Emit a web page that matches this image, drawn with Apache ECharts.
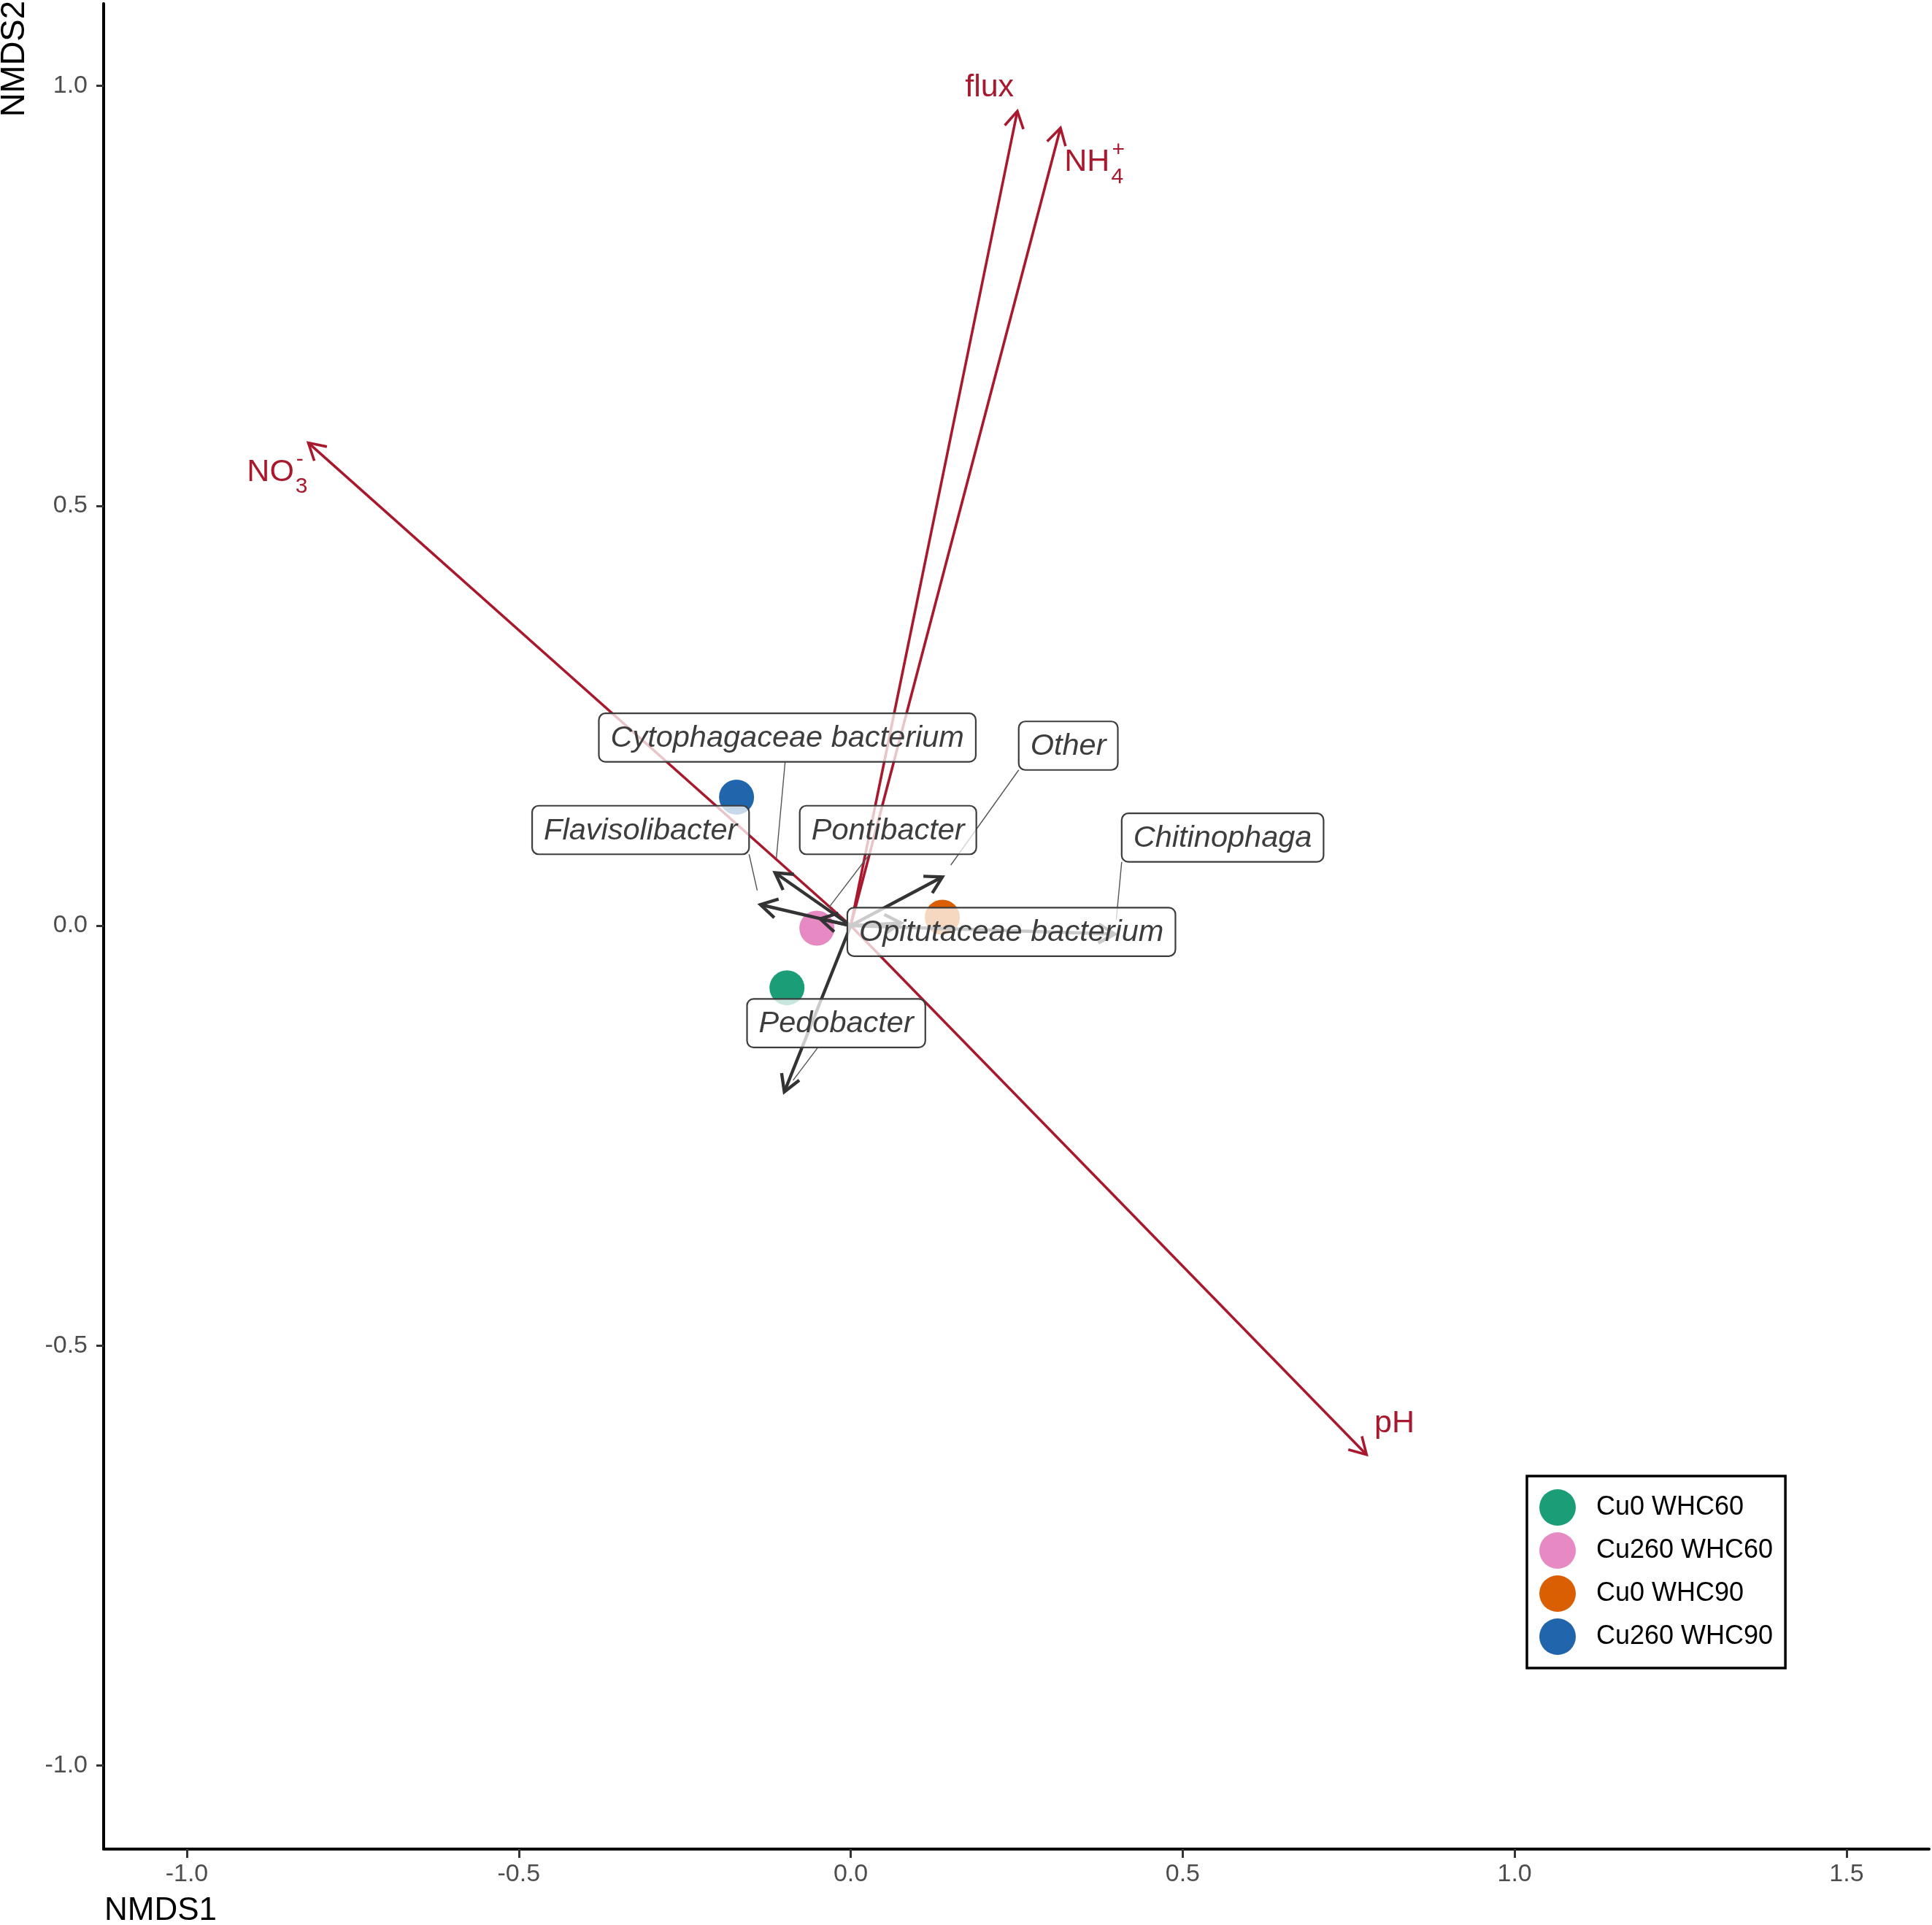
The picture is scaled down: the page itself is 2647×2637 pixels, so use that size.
<!DOCTYPE html>
<html>
<head>
<meta charset="utf-8">
<title>NMDS biplot</title>
<script src="https://cdn.jsdelivr.net/npm/echarts@6.0.0/dist/echarts.min.js"></script>
<style>
  html, body { margin: 0; padding: 0; background: #fff; }
  #chart { width: 2647px; height: 2637px; }
</style>
</head>
<body>
<div id="chart"></div>
<script>
// sample scores (group centroids)
const groups = ['Cu0 WHC60', 'Cu260 WHC60', 'Cu0 WHC90', 'Cu260 WHC90'];
const groupX = [-0.096, -0.051, 0.138, -0.172];
const groupY = [-0.074, -0.003, 0.010, 0.153];
const groupColors = ['#1B9E77', '#E78AC3', '#D95F02', '#2166AC'];

// environmental vectors
const envMain = ['flux', 'NH', 'NO', 'pH'];
const envSub = ['', '4', '3', ''];
const envSup = ['', '+', '-', ''];
const envX = [0.251, 0.316, -0.817, 0.777];
const envY = [0.970, 0.950, 0.575, -0.630];
// where the (repelled) labels sit
const envLabX = [0.209, 0.356, -0.874, 0.819];
const envLabY = [0.998, 0.909, 0.540, -0.593];

// taxa vectors
const taxa = ['Cytophagaceae bacterium', 'Flavisolibacter', 'Pontibacter', 'Other',
              'Chitinophaga', 'Opitutaceae bacterium', 'Pedobacter'];
const taxaX = [-0.114, -0.136, -0.046, 0.138, 0.398, 0.076, -0.100];
const taxaY = [0.063, 0.025, 0.008, 0.058, -0.010, 0.003, -0.198];
const taxaLabX = [-0.0955, -0.3165, 0.0562, 0.3277, 0.5602, 0.2420, -0.0219];
const taxaLabY = [0.2239, 0.1139, 0.1139, 0.2143, 0.1048, -0.0074, -0.1161];

// axis ticks
const xTicks = [-1.0, -0.5, 0.0, 0.5, 1.0, 1.5];
const yTicks = [-1.0, -0.5, 0.0, 0.5, 1.0];

const FONT = '"Liberation Sans", Arial, sans-serif';
const RED = '#A8192E';
const DARK = '#333333';
const LAB_SIZE = 41.5;

var measureCtx = document.createElement('canvas').getContext('2d');
function textWidth(t, size, italic) {
  measureCtx.font = (italic ? 'italic ' : '') + size + 'px "Liberation Sans"';
  return measureCtx.measureText(t).width;
}

// arrow from origin to the data point, open head like ggplot's arrow()
function arrowRender(color, width) {
  return function (params, api) {
    var p0 = api.coord([0, 0]);
    var p1 = api.coord([api.value(0), api.value(1)]);
    var ang = Math.atan2(p1[1] - p0[1], p1[0] - p0[0]);
    var L = 26, a = Math.PI / 6;
    var h1 = [p1[0] - L * Math.cos(ang - a), p1[1] - L * Math.sin(ang - a)];
    var h2 = [p1[0] - L * Math.cos(ang + a), p1[1] - L * Math.sin(ang + a)];
    return {
      type: 'group',
      children: [
        { type: 'line', shape: { x1: p0[0], y1: p0[1], x2: p1[0], y2: p1[1] },
          style: { stroke: color, lineWidth: width } },
        { type: 'polyline', shape: { points: [h1, p1, h2] },
          style: { stroke: color, lineWidth: width, fill: null } }
      ]
    };
  };
}

function labelBox(i) {
  var w = textWidth(taxa[i], LAB_SIZE, true) + 32;
  var h = LAB_SIZE + 25;
  return { hw: w / 2, hh: h / 2 };
}

// ggrepel-style segment from label edge towards the arrow tip
function leaderRender(params, api) {
  var i = params.dataIndex;
  var c = api.coord([api.value(0), api.value(1)]);
  var t = api.coord([api.value(2), api.value(3)]);
  var b = labelBox(i);
  var dx = t[0] - c[0], dy = t[1] - c[1];
  var outX = Math.abs(dx) > b.hw, outY = Math.abs(dy) > b.hh;
  if (!outX && !outY) return null;
  var sx, sy;
  if (outX && outY) {
    // off a corner: connect to that corner
    sx = c[0] + (dx > 0 ? b.hw : -b.hw);
    sy = c[1] + (dy > 0 ? b.hh : -b.hh);
  } else {
    var s = Math.min(dx === 0 ? Infinity : b.hw / Math.abs(dx), dy === 0 ? Infinity : b.hh / Math.abs(dy));
    sx = c[0] + s * dx; sy = c[1] + s * dy;
  }
  var ux = t[0] - sx, uy = t[1] - sy;
  var d = Math.sqrt(ux * ux + uy * uy);
  if (d <= 24) return null;
  var ex = t[0] - 20 * ux / d, ey = t[1] - 20 * uy / d;
  return { type: 'line', shape: { x1: sx, y1: sy, x2: ex, y2: ey },
           style: { stroke: '#555555', lineWidth: 1.4 } };
}

function taxaLabelRender(params, api) {
  var i = params.dataIndex;
  var c = api.coord([api.value(0), api.value(1)]);
  var b = labelBox(i);
  return {
    type: 'group',
    children: [
      { type: 'rect', shape: { x: c[0] - b.hw, y: c[1] - b.hh, width: 2 * b.hw, height: 2 * b.hh, r: 9 },
        style: { fill: 'rgba(255,255,255,0.75)', stroke: '#3d3d3d', lineWidth: 2.2 } },
      { type: 'text', x: c[0], y: c[1] + 1,
        style: { text: taxa[i], fontSize: LAB_SIZE, fontFamily: FONT, fontStyle: 'italic',
                 fill: '#3d3d3d', align: 'center', verticalAlign: 'middle' } }
    ]
  };
}

function envLabelRender(params, api) {
  var i = params.dataIndex;
  var c = api.coord([api.value(0), api.value(1)]);
  var mw = textWidth(envMain[i], 43, false);
  var kids = [
    { type: 'text', x: c[0], y: c[1],
      style: { text: envMain[i], fontSize: 43, fontFamily: FONT, fill: RED,
               align: 'center', verticalAlign: 'middle' } }
  ];
  var rx = c[0] + mw / 2 + 2;
  if (envSub[i]) {
    kids.push({ type: 'text', x: rx, y: c[1] + 20,
      style: { text: envSub[i], fontSize: 30, fontFamily: FONT, fill: RED, align: 'left', verticalAlign: 'middle' } });
  }
  if (envSup[i]) {
    kids.push({ type: 'text', x: rx + 1, y: c[1] - 17,
      style: { text: envSup[i], fontSize: 30, fontFamily: FONT, fill: RED, align: 'left', verticalAlign: 'middle' } });
  }
  return { type: 'group', children: kids };
}

var chart = echarts.init(document.getElementById('chart'), null, { renderer: 'canvas' });

var series = groups.map(function (g, i) {
  return {
    name: g, type: 'scatter', symbol: 'circle', symbolSize: 48,
    itemStyle: { color: groupColors[i], opacity: 1 },
    data: [[groupX[i], groupY[i]]], z: 2, silent: true
  };
});

series.push({
  type: 'custom', renderItem: arrowRender(RED, 3.6), z: 3, silent: true,
  data: envX.map(function (x, i) { return [x, envY[i]]; }),
  encode: { x: 0, y: 1 }
});
series.push({
  type: 'custom', renderItem: arrowRender(DARK, 4.4), z: 4, silent: true,
  data: taxaX.map(function (x, i) { return [x, taxaY[i]]; }),
  encode: { x: 0, y: 1 }
});
series.push({
  type: 'custom', renderItem: leaderRender, z: 5, silent: true,
  data: taxaLabX.map(function (x, i) { return [x, taxaLabY[i], taxaX[i], taxaY[i]]; }),
  encode: { x: [0, 2], y: [1, 3] }
});
series.push({
  type: 'custom', renderItem: taxaLabelRender, z: 6, silent: true,
  data: taxaLabX.map(function (x, i) { return [x, taxaLabY[i]]; }),
  encode: { x: 0, y: 1 }
});
series.push({
  type: 'custom', renderItem: envLabelRender, z: 7, silent: true,
  data: envLabX.map(function (x, i) { return [x, envLabY[i]]; }),
  encode: { x: 0, y: 1 }
});

var option = {
  animation: false,
  backgroundColor: '#ffffff',
  grid: { left: 142, right: 4, top: 5, bottom: 104 },
  xAxis: {
    type: 'value', min: -1.1253, max: 1.6243,
    splitLine: { show: false },
    axisLine: { show: true, onZero: false, lineStyle: { color: '#000', width: 4 } },
    axisTick: { show: true, length: 12, customValues: xTicks, lineStyle: { color: '#333', width: 3 } },
    axisLabel: { customValues: xTicks, margin: 18, fontSize: 34, color: '#4D4D4D', fontFamily: FONT,
                 formatter: function (v) { return v.toFixed(1); } }
  },
  yAxis: {
    type: 'value', min: -1.0997, max: 1.098,
    splitLine: { show: false },
    axisLine: { show: true, onZero: false, lineStyle: { color: '#000', width: 4 } },
    axisTick: { show: true, length: 10, customValues: yTicks, lineStyle: { color: '#333', width: 3 } },
    axisLabel: { customValues: yTicks, margin: 22, fontSize: 34, color: '#4D4D4D', fontFamily: FONT,
                 formatter: function (v) { return v.toFixed(1); } }
  },
  legend: {
    data: groups, orient: 'vertical', left: 2092, top: 2022,
    padding: [18, 17, 18, 17], itemGap: 9, itemWidth: 50, itemHeight: 50, icon: 'circle',
    borderColor: '#000', borderWidth: 3.5, backgroundColor: '#fff',
    textStyle: { fontSize: 36, color: '#000', fontFamily: FONT, padding: [0, 0, 0, 23] }
  },
  graphic: [
    { type: 'text', x: 143, y: 2618,
      style: { text: 'NMDS1', fontSize: 44, fontFamily: FONT, fill: '#000', align: 'left', verticalAlign: 'middle' } },
    { type: 'text', x: 20, y: 1, rotation: Math.PI / 2,
      style: { text: 'NMDS2', fontSize: 45.5, fontFamily: FONT, fill: '#000', align: 'right', verticalAlign: 'middle' } }
  ],
  series: series
};

chart.setOption(option);
</script>
</body>
</html>
